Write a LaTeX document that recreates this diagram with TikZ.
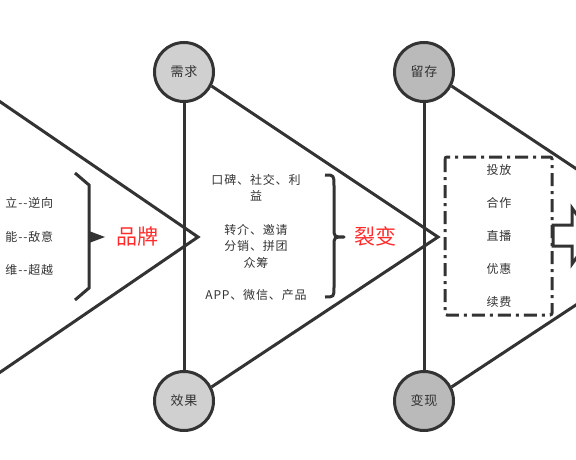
\documentclass[tikz,border=0pt]{standalone}
\usepackage{fontspec}
\newfontfamily\cjk[LetterSpace=7]{Noto Sans CJK SC}
\newfontfamily\cjktitle{Noto Sans CJK SC}
\usetikzlibrary{positioning, arrows}

\definecolor{ink}{HTML}{333333}
\definecolor{lightstage}{HTML}{D0D0D0}
\definecolor{darkstage}{HTML}{BABABA}
\definecolor{hot}{HTML}{FF2B2B}

\begin{document}
\begin{tikzpicture}[
        yscale=-1,
        x=1pt,
        y=1pt,
        line width=3pt,
        draw=ink,
        every node/.style={font=\cjk\fontsize{12}{16.5}\selectfont, text=ink, align=center},
        stage/.style={circle, draw=ink, line width=3pt, minimum size=59pt, inner sep=0pt, font=\cjk\fontsize{13}{15}\selectfont},
        title/.style={font=\cjktitle\fontsize{21}{24}\selectfont, text=hot},
        bone/.style={draw=ink, line width=3pt, line join=miter},
        dashbox/.style={draw=ink, line width=3pt, rounded corners=2pt, dash pattern=on 13pt off 5pt on 3pt off 5pt}
    ]
    \path[use as bounding box, clip] (0,0) rectangle (576,460);

    % stages
    \node[stage, fill=lightstage] (need) at (184,72) {需求};
    \node[stage, fill=lightstage] (effect) at (184,401) {效果};
    \node[stage, fill=darkstage] (keep) at (424,72) {留存};
    \node[stage, fill=darkstage] (cash) at (424,401) {变现};

    \coordinate (tipA) at (198,237);
    \coordinate (tipB) at (438,237);
    \coordinate (tipC) at (679,237);

    \draw[bone] (need) -- (effect);
    \draw[bone] (keep) -- (cash);
    \draw[bone] (-20,88) -- (tipA) -- (-20,386);
    \draw[bone] (need.-27) -- (tipB) -- (effect.27);
    \draw[bone] (keep.-27) -- (tipC) -- (cash.27);

    % brand
    \node[anchor=east] (solo) at (58,203) {立--逆向};
    \node[anchor=east] (skill) at (58,237) {能--敌意};
    \node[anchor=east] (mind) at (58,270) {维--超越};
    \draw[bone] (75,173) -- (89,185) -- (89,288) -- (75,300);
    \fill[ink] (89,231) -- (105,237) -- (89,243) -- cycle;
    \node[title] (brand) at (137,237) {品牌};

    % fission
    \node (word) at (256,187.5) {口碑、社交、利\\益};
    \node (share) at (256,246) {转介、邀请\\分销、拼团\\众筹};
    \node (channel) at (256,295) {APP、微信、产品};
    \draw[bone, line join=round] (325,175) .. controls (334,175) .. (334,186) -- (334,228)
        .. controls (334,237) .. (344,237) .. controls (334,237) .. (334,246) -- (334,287)
        .. controls (334,297) .. (325,297);
    \node[title] (fission) at (375,236) {裂变};

    % cash out
    \draw[dashbox] (445,157) rectangle (552,315);
    \foreach \t [count=\i] in {投放, 合作, 直播, 优惠, 续费}
        \node (item\i) at (499,137+33*\i) {\t};
    \draw[bone, fill=white] (553,225) -- (572,225) -- (572,208) -- (592,236)
        -- (572,264) -- (572,246) -- (553,246) -- cycle;
\end{tikzpicture}
\end{document}
